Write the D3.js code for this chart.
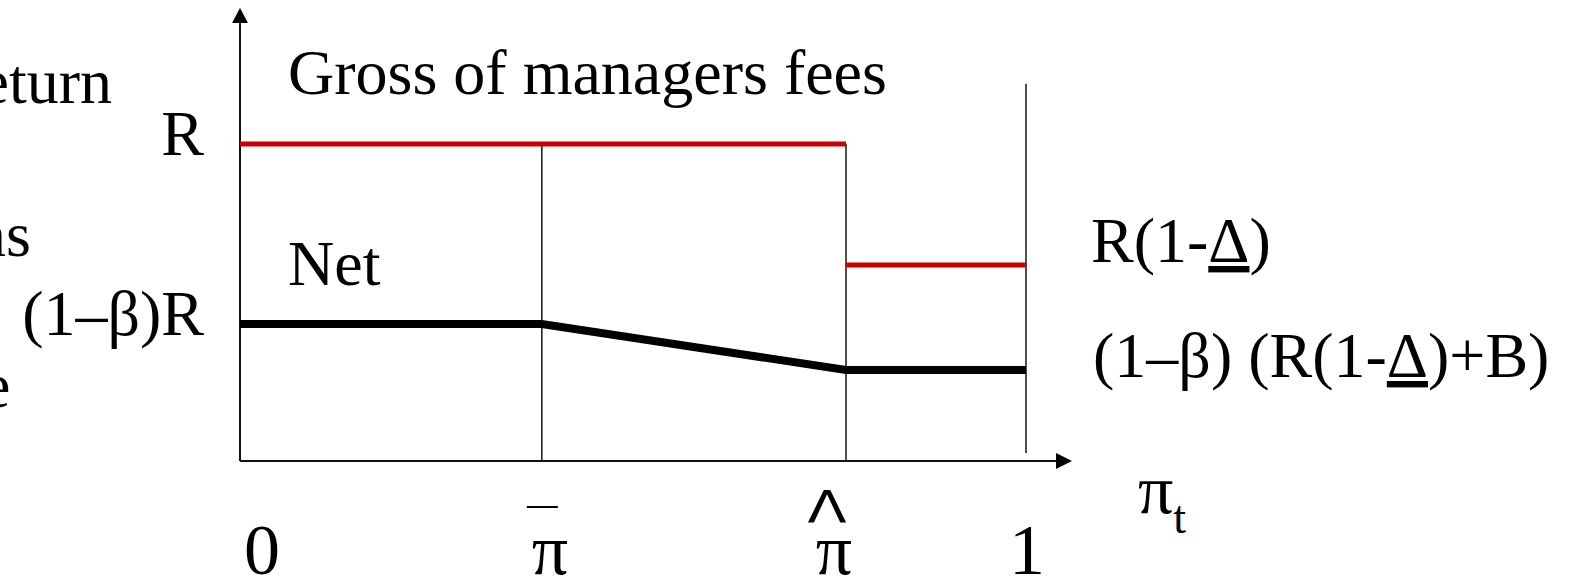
<!DOCTYPE html>
<html>
<head>
<meta charset="utf-8">
<script src="https://cdn.jsdelivr.net/npm/d3@7"></script>
<style>
  html, body { margin: 0; padding: 0; background: #fff; overflow: hidden; }
  text { font-family: "Liberation Serif", "Times New Roman", serif; fill: #000; }
</style>
</head>
<body>
<svg id="chart"></svg>
<script>
// Breakpoints on the belief axis (pi_t from 0 to 1)
const xBreaks = [0, 0.384, 0.771, 1];
const xTickLabels = ["0", "\u03c0", "\u03c0", "1"];

// Gross of managers fees: R up to pi-hat, then R(1-Delta)
const grossX = [[0, 0.771], [0.771, 1]];
const grossY = [1, 0.618];

// Net return: flat, falling between pi-bar and pi-hat, flat again
const netX = [0, 0.384, 0.771, 1];
const netY = [0.432, 0.432, 0.287, 0.287];

const width = 1569, height = 577;

const svg = d3.select("#chart")
  .attr("width", width)
  .attr("height", height);

// Scales
const x = d3.scaleLinear().domain([0, 1]).range([240, 1026]);
const y = d3.scaleLinear().domain([0, 1]).range([461, 144]);

// Thin vertical guide lines
svg.append("line")
  .attr("x1", x(xBreaks[1])).attr("x2", x(xBreaks[1]))
  .attr("y1", y(1)).attr("y2", y(0))
  .attr("stroke", "#222").attr("stroke-width", 1.6);
svg.append("line")
  .attr("x1", x(xBreaks[2])).attr("x2", x(xBreaks[2]))
  .attr("y1", y(1)).attr("y2", y(0))
  .attr("stroke", "#222").attr("stroke-width", 1.6);
svg.append("line")
  .attr("x1", x(xBreaks[3])).attr("x2", x(xBreaks[3]))
  .attr("y1", y(1.19)).attr("y2", y(0.025))
  .attr("stroke", "#222").attr("stroke-width", 1.6);

// Axes with arrow heads
svg.append("line")
  .attr("x1", x(0)).attr("x2", x(0))
  .attr("y1", y(0)).attr("y2", 20)
  .attr("stroke", "#111").attr("stroke-width", 2);
svg.append("path")
  .attr("d", `M${x(0)},8 L${x(0) - 8},23 L${x(0) + 8},23 Z`)
  .attr("fill", "#000");
svg.append("line")
  .attr("x1", x(0)).attr("x2", 1060)
  .attr("y1", y(0)).attr("y2", y(0))
  .attr("stroke", "#111").attr("stroke-width", 2);
svg.append("path")
  .attr("d", `M1072,${y(0)} L1056,${y(0) - 8} L1056,${y(0) + 8} Z`)
  .attr("fill", "#000");

// Gross line (red)
svg.selectAll(".gross")
  .data(grossX)
  .enter()
  .append("line")
  .attr("class", "gross")
  .attr("x1", d => x(d[0]))
  .attr("x2", d => x(d[1]))
  .attr("y1", (d, i) => y(grossY[i]))
  .attr("y2", (d, i) => y(grossY[i]))
  .attr("stroke", "#cc0000")
  .attr("stroke-width", 5);

// Net line (thick black)
const netLine = d3.line()
  .x(d => x(d[0]))
  .y(d => y(d[1]));
svg.append("path")
  .datum(netX.map((v, i) => [v, netY[i]]))
  .attr("d", netLine)
  .attr("fill", "none")
  .attr("stroke", "#000")
  .attr("stroke-width", 8);

// Texts
const T = (tx, ty, str, anchor, size) => svg.append("text")
  .attr("x", tx).attr("y", ty)
  .attr("text-anchor", anchor || "start")
  .style("font-size", (size || 64) + "px")
  .text(str);

// left-side labels (cut off by the frame)
T(112, 103, "Return", "end");
T(204, 155, "R", "end");
T(31, 256, "Returns", "end");
T(204, 335, "(1\u2013\u03b2)R", "end");
T(10.5, 407, "Fee", "end");

T(288, 94, "Gross of managers fees");
T(288, 285, "Net");

// right-side labels with underlined Delta
const lab1 = svg.append("text").attr("x", 1091).attr("y", 262).style("font-size", "64px");
lab1.append("tspan").text("R(1-");
lab1.append("tspan").style("text-decoration", "underline").text("\u0394");
lab1.append("tspan").text(")");

const lab2 = svg.append("text").attr("x", 1093).attr("y", 377).style("font-size", "64px");
lab2.append("tspan").text("(1\u2013\u03b2) (R(1-");
lab2.append("tspan").style("text-decoration", "underline").text("\u0394");
lab2.append("tspan").text(")+B)");

// axis title pi_t
const axTitle = svg.append("text").attr("x", 1138).attr("y", 513).style("font-size", "70px");
axTitle.append("tspan").text("\u03c0");
axTitle.append("tspan").attr("dy", 20).style("font-size", "46px").text("t");

// bottom tick labels
const labelShift = [22, 8, -12, 1];
svg.selectAll(".xlab")
  .data(xTickLabels)
  .enter()
  .append("text")
  .attr("class", "xlab")
  .attr("x", (d, i) => x(xBreaks[i]) + labelShift[i])
  .attr("y", 574)
  .attr("text-anchor", "middle")
  .style("font-size", "72px")
  .text(d => d);

// bar over pi (pi-bar) and hat over pi (pi-hat)
svg.append("line")
  .attr("x1", x(xBreaks[1]) - 15).attr("x2", x(xBreaks[1]) + 16)
  .attr("y1", 507).attr("y2", 507)
  .attr("stroke", "#000").attr("stroke-width", 2);
svg.append("text")
  .attr("transform", `translate(${x(xBreaks[2]) - 19},523) scale(1.3,1)`)
  .attr("text-anchor", "middle")
  .style("font-family", "DejaVu Sans")
  .style("font-size", "44px")
  .text("\u039b");
</script>
</body>
</html>
